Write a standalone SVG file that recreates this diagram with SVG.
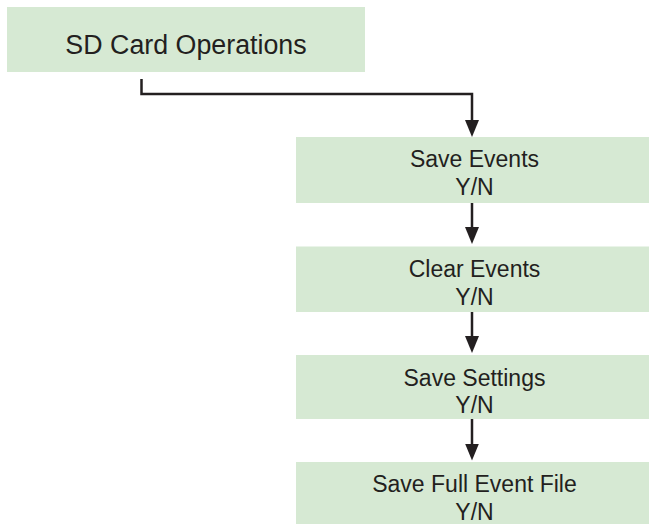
<svg xmlns="http://www.w3.org/2000/svg" width="649" height="524" viewBox="0 0 649 524">
<style>
.box{fill:#d6e9d3;}
.t{font-family:"Liberation Sans",Arial,Helvetica,sans-serif;fill:#231f20;text-anchor:middle;}
.n{font-size:23px;}
.top{font-size:26.8px;}
.c{fill:none;stroke:#231f20;stroke-width:2.5;}
</style>
<defs>
<marker id="ah" markerUnits="userSpaceOnUse" viewBox="0 0 17 14" markerWidth="17" markerHeight="14" refX="7" refY="7" orient="auto">
<path d="M0,0 L17,7 L0,14 z" fill="#231f20"/>
</marker>
</defs>
<rect width="649" height="524" fill="#ffffff"/>
<g id="connectors">
<path class="c" d="M141.5,79 V94 H472 V127" marker-end="url(#ah)"/>
<path class="c" d="M472,203 V234" marker-end="url(#ah)"/>
<path class="c" d="M472,312 V343" marker-end="url(#ah)"/>
<path class="c" d="M472,419 V450.5" marker-end="url(#ah)"/>
</g>
<g id="sd-card-operations">
<rect class="box" x="7" y="7" width="358" height="65"/>
<text class="t top" x="186" y="54">SD Card Operations</text>
</g>
<g id="save-events">
<rect class="box" x="296" y="137" width="357" height="66"/>
<text class="t n" x="474.5" y="167">Save Events</text>
<text class="t n" x="474.5" y="195">Y/N</text>
</g>
<g id="clear-events">
<rect class="box" x="296" y="246.5" width="357" height="65.5"/>
<text class="t n" x="474.5" y="277">Clear Events</text>
<text class="t n" x="474.5" y="305">Y/N</text>
</g>
<g id="save-settings">
<rect class="box" x="296" y="355" width="357" height="64"/>
<text class="t n" x="474.5" y="386">Save Settings</text>
<text class="t n" x="474.5" y="413">Y/N</text>
</g>
<g id="save-full-event-file">
<rect class="box" x="296" y="462" width="357" height="66"/>
<text class="t n" x="474.5" y="492">Save Full Event File</text>
<text class="t n" x="474.5" y="520">Y/N</text>
</g>
</svg>
